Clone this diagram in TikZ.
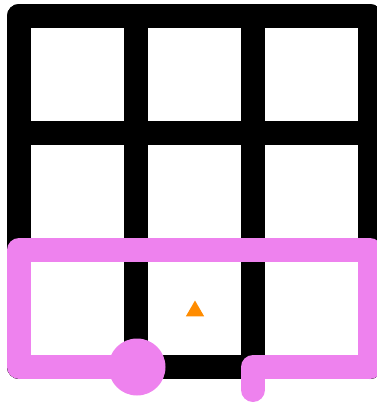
\documentclass[tikz,border=0pt]{standalone}
\usetikzlibrary{shapes.geometric}
\definecolor{trailpink}{RGB}{238,130,238}
\definecolor{goalorange}{RGB}{255,140,0}

\begin{document}
\begin{tikzpicture}[x=1pt,y=-1pt,
    wall/.style={line width=24pt, line cap=round, line join=round},
    trail/.style={line width=24pt, draw=trailpink, line cap=round, line join=round}]
    \useasboundingbox (0,0) rectangle (376,405);
    % grid walls
    \foreach \k in {0,1,2,3} {
        \draw[wall] (19+117*\k,16) -- (19+117*\k,367);
        \draw[wall] (19,16+117*\k) -- (370,16+117*\k);
    }
    \node[circle, fill=trailpink, minimum size=57pt, inner sep=0pt] (start) at (137,367) {};
    \node[regular polygon, regular polygon sides=3, fill=goalorange, minimum size=21pt, inner sep=0pt] (goal) at (195,311) {};
    \coordinate (finish) at (253,390);
    \draw[trail] (start.center) -- (19,367) -- (19,250) -- (370,250) -- (370,367) -- (253,367) -- (finish);
\end{tikzpicture}
\end{document}
